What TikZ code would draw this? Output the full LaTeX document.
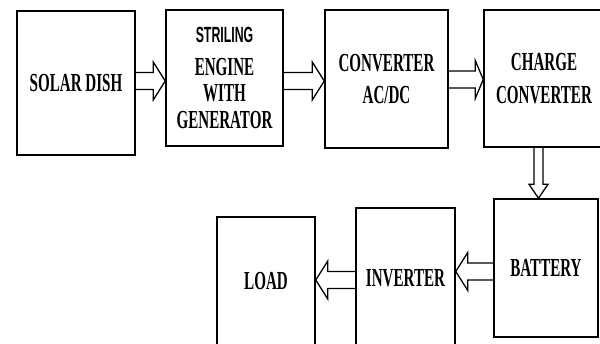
\documentclass[tikz,border=0pt]{standalone}
\usepackage{fontspec}
\usetikzlibrary{calc}
\newfontfamily\blockfont[FakeStretch=0.58]{Liberation Serif}
\newfontfamily\tagfont[FakeStretch=0.56]{Liberation Sans}

\tikzset{
  block/.style={draw,line width=1.5pt,inner sep=0pt,align=center,
    font=\blockfont\bfseries\fontsize{26}{32.5}\selectfont},
  fat/.style={line width=1.3pt,line join=miter,to path={
    let \p1=($(\tikztotarget)!\headl!(\tikztostart)$) in
    ($(\tikztostart)!\shaftw!90:(\tikztotarget)$)
    -- ($(\p1)!\shaftw!90:(\tikztotarget)$)
    -- ($(\p1)!\headw!90:(\tikztotarget)$)
    -- (\tikztotarget)
    -- ($(\p1)!\headw!-90:(\tikztotarget)$)
    -- ($(\p1)!\shaftw!-90:(\tikztotarget)$)
    -- ($(\tikztostart)!\shaftw!-90:(\tikztotarget)$)}},
  slim/.code={\def\shaftw{4.5pt}\def\headw{9.5pt}\def\headl{14pt}},
  stubby/.code={\def\headl{8pt}}
}
\def\shaftw{8.5pt}
\def\headw{19pt}
\def\headl{12pt}

\begin{document}
\begin{tikzpicture}[x=1pt,y=-1pt]
\useasboundingbox (0,0) rectangle (600,343);
\clip (0,0) rectangle (600,343);
\node[block,minimum width=118pt,minimum height=144pt] (dish) at (76,83) {SOLAR DISH};
\node[block,minimum width=117pt,minimum height=136pt,
  font=\blockfont\bfseries\fontsize{26}{26.5}\selectfont] (engine) at (224.5,78)
  {{\tagfont\bfseries\fontsize{22}{22}\selectfont STRILING}\\[6pt] ENGINE\\ WITH\\ GENERATOR};
\node[block,minimum width=123pt,minimum height=138pt] (conv) at (386.5,79) {CONVERTER\\ AC/DC};
\node[block,minimum width=120pt,minimum height=137pt] (charge) at (544,78.5) {CHARGE\\ CONVERTER};
\node[block,minimum width=104pt,minimum height=138pt] (battery) at (546,268) {BATTERY};
\node[block,minimum width=99pt,minimum height=140pt] (inverter) at (405.5,278) {INVERTER};
\node[block,minimum width=98pt,minimum height=128pt] (load) at (266,281) {LOAD};

\draw[fat] (dish.east |- 0,81) to (engine.west |- 0,81);
\draw[fat] (engine.east |- 0,81) to (conv.west |- 0,81);
\draw[fat,stubby] (conv.east |- 0,79.5) to (charge.west |- 0,79.5);
\draw[fat,slim] (charge.south -| 538.5,0) to (battery.north -| 538.5,0);
\draw[fat] (battery.west |- 0,271.5) to (inverter.east |- 0,271.5);
\draw[fat] (inverter.west |- 0,280) to (load.east |- 0,280);
\end{tikzpicture}
\end{document}
